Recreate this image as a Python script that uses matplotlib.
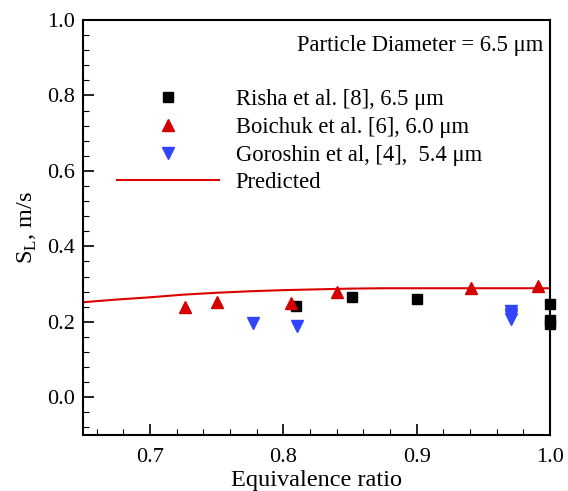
import matplotlib
matplotlib.use("Agg")
import matplotlib.pyplot as plt
from matplotlib.ticker import MultipleLocator
import numpy as np

plt.rcParams['font.family'] = ['Liberation Serif', 'DejaVu Serif']
plt.rcParams['mathtext.fontset'] = 'custom'
plt.rcParams['mathtext.rm'] = 'Liberation Serif'

# Data
risha_x = [0.8095, 0.8515, 0.900, 1.000, 1.000, 1.000]
risha_y = [0.242, 0.265, 0.260, 0.248, 0.205, 0.193]
boichuk_x = [0.726, 0.750, 0.806, 0.840, 0.941, 0.991]
boichuk_y = [0.240, 0.252, 0.250, 0.280, 0.290, 0.296]
goroshin_x = [0.777, 0.810, 0.971, 0.971, 0.971, 0.971]
goroshin_y = [0.196, 0.190, 0.228, 0.222, 0.215, 0.208]
pred_x = [0.65, 0.675, 0.70, 0.725, 0.75, 0.775, 0.80, 0.825, 0.85, 0.875, 0.90, 0.95, 1.00]
pred_y = [0.252, 0.259, 0.265, 0.272, 0.277, 0.281, 0.284, 0.286, 0.288, 0.289, 0.289, 0.289, 0.289]

fig = plt.figure(figsize=(5.68, 4.91), dpi=100)
ax = fig.add_axes([83.3/568, 56/491, (550-83.3)/568, (435-20)/491])

ax.plot(risha_x, risha_y, 's', color='black', ms=7.5, linestyle='none',
        label='Risha et al. [8], 6.5 \u03bcm', clip_on=False, zorder=3)
ax.plot(boichuk_x, boichuk_y, '^', color='#d40000', ms=8.5, linestyle='none',
        label='Boichuk et al. [6], 6.0 \u03bcm', clip_on=False, zorder=3)
ax.plot(goroshin_x, goroshin_y, 'v', color='#3344ff', ms=8.5, linestyle='none',
        label='Goroshin et al, [4],  5.4 \u03bcm', clip_on=False, zorder=3)
ax.plot(pred_x, pred_y, '-', color='#dd0000', lw=1.5, label='Predicted', zorder=2)

ax.set_xlim(0.65, 1.0)
ax.set_ylim(-0.1, 1.0)
ax.xaxis.set_minor_locator(MultipleLocator(0.02))
ax.yaxis.set_minor_locator(MultipleLocator(0.04))
ax.set_xticks([0.7, 0.8, 0.9, 1.0])
ax.set_xticklabels(['0.7', '0.8', '0.9', '1.0'])
ax.set_yticks([0.0, 0.2, 0.4, 0.6, 0.8, 1.0])
ax.set_yticklabels(['0.0', '0.2', '0.4', '0.6', '0.8', '1.0'])

ax.tick_params(which='both', direction='in', top=False, right=False, labelsize=16)
ax.tick_params(which='major', length=8, width=1.2)
ax.tick_params(which='minor', length=4.5, width=0.8)
ax.tick_params(axis='x', pad=9)
ax.tick_params(axis='y', pad=6)
for s in ax.spines.values():
    s.set_linewidth(1.5)

ax.set_xlabel('Equivalence ratio', fontsize=17.5, labelpad=2.5)
ax.set_ylabel(r'S$_\mathrm{L}$, m/s', fontsize=17.5, labelpad=6)

ax.text(0.985, 0.965, 'Particle Diameter = 6.5 \u03bcm', transform=ax.transAxes,
        ha='right', va='top', fontsize=16.3)

leg = ax.legend(loc='upper left', bbox_to_anchor=(117/568, (491-89)/491),
                bbox_transform=fig.transFigure, frameon=False, fontsize=16.3,
                handlelength=4.5, handletextpad=0.75, labelspacing=0.3,
                borderpad=0, borderaxespad=0, numpoints=1)

fig.savefig('out.png', dpi=100)
